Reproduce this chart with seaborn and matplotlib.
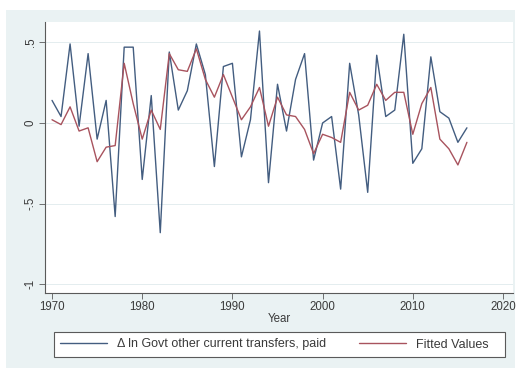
import numpy as np
import pandas as pd
import matplotlib
matplotlib.use("Agg")
import matplotlib.pyplot as plt
from matplotlib.patches import Rectangle
import seaborn as sns

years = list(range(1970, 2017))
actual = [0.14, 0.04, 0.49, -0.02, 0.43, -0.10, 0.14, -0.58, 0.47, 0.47,
          -0.35, 0.17, -0.68, 0.44, 0.08, 0.20, 0.49, 0.30, -0.27, 0.35,
          0.37, -0.21, 0.02, 0.57, -0.37, 0.24, -0.05, 0.27, 0.43, -0.23,
          0.00, 0.04, -0.41, 0.37, 0.05, -0.43, 0.42, 0.04, 0.08, 0.55,
          -0.25, -0.16, 0.41, 0.07, 0.03, -0.12, -0.03]
fitted = [0.02, -0.01, 0.10, -0.05, -0.03, -0.24, -0.15, -0.14, 0.37, 0.12,
          -0.10, 0.08, -0.04, 0.43, 0.33, 0.32, 0.46, 0.27, 0.16, 0.30,
          0.16, 0.02, 0.10, 0.22, -0.02, 0.16, 0.05, 0.04, -0.04, -0.19,
          -0.07, -0.09, -0.12, 0.19, 0.08, 0.11, 0.24, 0.14, 0.19, 0.19,
          -0.07, 0.12, 0.22, -0.10, -0.16, -0.26, -0.12]
series_names = ["\u0394 ln Govt other current transfers, paid", "Fitted Values"]
xticks = [1970, 1980, 1990, 2000, 2010, 2020]
yticks = [0.5, 0, -0.5, -1]
ytick_labels = [".5", "0", "-.5", "-1"]

sns.set_style("white")
plt.rcParams['font.family'] = ['Liberation Sans', 'DejaVu Sans']

W, H = 522, 370
fig = plt.figure(figsize=(W / 100, H / 100), dpi=100)
fig.patch.set_facecolor("white")
fig.add_artist(Rectangle((6 / W, 2 / H), 509 / W, 358 / H, transform=fig.transFigure,
                         facecolor="#EAF2F3", edgecolor="none", zorder=0))

ax = fig.add_axes([45 / W, 77 / H, 468 / W, 271 / H])
ax.set_facecolor("white")

df = pd.DataFrame({"Year": years * 2,
                   "value": actual + fitted,
                   "series": [series_names[0]] * len(years) + [series_names[1]] * len(years)})
palette = {series_names[0]: "#435d80", series_names[1]: "#a8535e"}
sns.lineplot(data=df, x="Year", y="value", hue="series", palette=palette,
             linewidth=1.0, ax=ax, legend=False)

ax.set_xlim(1969.22, 2021.11)
ax.set_ylim(-1.054, 0.626)
ax.set_xticks(xticks)
ax.set_xticklabels([str(t) for t in xticks])
ax.set_yticks(yticks)
ax.set_yticklabels(ytick_labels, rotation=90, va="center")
for y in yticks:
    ax.axhline(y, color="#e4edef", lw=0.7, zorder=0)

for s in ["top", "right"]:
    ax.spines[s].set_visible(False)
for s in ["left", "bottom"]:
    ax.spines[s].set_color("#5a5a5a")
    ax.spines[s].set_linewidth(0.8)
ax.tick_params(axis="both", length=4, width=0.6, color="#5a5a5a",
               labelsize=8.3, labelcolor="#3a3a3a", pad=2)
ax.tick_params(axis="x", bottom=True)
ax.tick_params(axis="y", left=True)
ax.set_xlabel("Year", fontsize=8.3, color="#3a3a3a", labelpad=0)
ax.set_ylabel("")

# legend frame
fig.add_artist(Rectangle((54 / W, 13 / H), 451 / W, 25 / H, transform=fig.transFigure,
                         facecolor="white", edgecolor="#5a5a5a", lw=0.8, zorder=2))
fs = 9.0
fpx = fs * 100 / 72
handles = [plt.Line2D([], [], color=palette[n], lw=1.0) for n in series_names]
leg = fig.legend(handles, series_names, loc="center left",
                 bbox_to_anchor=(60 / W, 25.5 / H), ncol=2, fontsize=fs,
                 frameon=False, handlelength=47 / fpx, handletextpad=10 / fpx,
                 columnspacing=33 / fpx, borderpad=0, borderaxespad=0)
leg.set_zorder(3)
for t in leg.get_texts():
    t.set_color("#3a3a3a")

fig.savefig("out.png", dpi=100)
